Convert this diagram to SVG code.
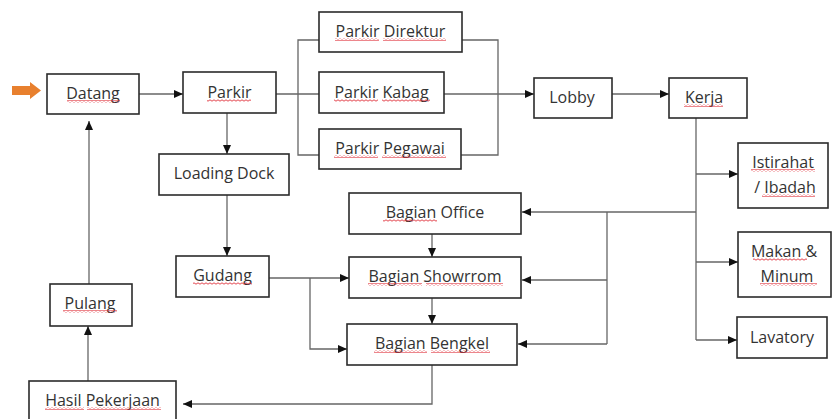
<svg xmlns="http://www.w3.org/2000/svg" width="832" height="419" viewBox="0 0 832 419">
<style>
.box{fill:#fff;stroke:#2b2b2b;stroke-width:1.6}
.lbl{font-family:"Open Sans","Liberation Sans",sans-serif;font-size:16px;fill:#333;text-anchor:middle}
.con{fill:none;stroke:#666;stroke-width:1.3}
.arr{marker-end:url(#ah)}
.sq{fill:url(#wavy)}
</style>
<defs>
<marker id="ah" markerUnits="userSpaceOnUse" markerWidth="9" markerHeight="8" refX="9" refY="4" orient="auto">
<path d="M0,0 L9,4 L0,8 z" fill="#111"/>
</marker>
<pattern id="wavy" patternUnits="userSpaceOnUse" width="4" height="3">
<path d="M0,2.2 L2,0.8 L4,2.2" fill="none" stroke="#e0303a" stroke-width="0.9"/>
</pattern>
</defs>
<rect width="832" height="419" fill="#fff"/>

<polygon points="12,86 30,86 30,82 41,90.5 30,99 30,95 12,95" fill="#e8802e"/>

<g id="connectors">
<path class="con arr" d="M139,94 H183"/>
<path class="con" d="M276,94 H319 M319,40 H298 V155 H319"/>
<path class="con" d="M462,40 H498 V155 H461"/>
<path class="con arr" d="M444,94 H534"/>
<path class="con arr" d="M612,94 H669"/>
<path class="con" d="M696,118 V340"/>
<path class="con arr" d="M696,174 H738"/>
<path class="con arr" d="M696,262 H738"/>
<path class="con arr" d="M696,340 H737"/>
<path class="con arr" d="M696,212 H522"/>
<path class="con" d="M607,212 V344"/>
<path class="con arr" d="M607,280 H522"/>
<path class="con arr" d="M607,344 H518"/>
<path class="con arr" d="M432,234 V257"/>
<path class="con arr" d="M432,298 V324"/>
<path class="con arr" d="M432,365 V404 H183"/>
<path class="con arr" d="M88,381 V326"/>
<path class="con arr" d="M89,284 V121"/>
<path class="con arr" d="M227,113 V154"/>
<path class="con arr" d="M227,195 V256"/>
<path class="con arr" d="M269,278 H349"/>
<path class="con arr" d="M310,278 V349 H347"/>
</g>

<g id="datang"><rect class="box" x="47" y="74" width="92" height="40"/><text class="lbl" x="93" y="99">Datang</text><rect class="sq" x="67" y="100" width="53" height="3"/></g>
<g id="parkir"><rect class="box" x="183" y="72" width="93" height="41"/><text class="lbl" x="229.5" y="98">Parkir</text><rect class="sq" x="207" y="99" width="44" height="3"/></g>
<g id="parkir-direktur"><rect class="box" x="319" y="12" width="143" height="40"/><text class="lbl" x="390.5" y="37">Parkir Direktur</text><rect class="sq" x="335" y="38" width="44" height="3"/><rect class="sq" x="383" y="38" width="63" height="3"/></g>
<g id="parkir-kabag"><rect class="box" x="319" y="72" width="125" height="41"/><text class="lbl" x="381.5" y="98">Parkir Kabag</text><rect class="sq" x="334" y="99" width="44" height="3"/><rect class="sq" x="382" y="99" width="48" height="3"/></g>
<g id="parkir-pegawai"><rect class="box" x="319" y="129" width="142" height="40"/><text class="lbl" x="390" y="154">Parkir Pegawai</text><rect class="sq" x="334" y="155" width="44" height="3"/><rect class="sq" x="382" y="155" width="64" height="3"/></g>
<g id="lobby"><rect class="box" x="534" y="78" width="78" height="40"/><text class="lbl" x="572" y="103">Lobby</text></g>
<g id="kerja"><rect class="box" x="669" y="78" width="78" height="40"/><text class="lbl" x="704" y="103">Kerja</text><rect class="sq" x="684" y="104" width="39" height="3"/></g>
<g id="istirahat"><rect class="box" x="738" y="143" width="90" height="65"/><text class="lbl" x="783" y="168">Istirahat</text><text class="lbl" x="785" y="193">/ Ibadah</text><rect class="sq" x="751" y="169" width="64" height="3"/><rect class="sq" x="762" y="194" width="53" height="3"/></g>
<g id="makan"><rect class="box" x="738" y="232" width="93" height="65"/><text class="lbl" x="784" y="257">Makan &amp;</text><text class="lbl" x="787" y="282">Minum</text><rect class="sq" x="753" y="258" width="54" height="3"/><rect class="sq" x="760" y="283" width="57" height="3"/></g>
<g id="lavatory"><rect class="box" x="737" y="317" width="90" height="41"/><text class="lbl" x="782" y="343">Lavatory</text></g>
<g id="bagian-office"><rect class="box" x="349" y="193" width="172" height="41"/><text class="lbl" x="435" y="218">Bagian Office</text><rect class="sq" x="383" y="219" width="54" height="3"/></g>
<g id="bagian-showroom"><rect class="box" x="349" y="257" width="172" height="41"/><text class="lbl" x="435" y="282">Bagian Showrrom</text><rect class="sq" x="368" y="283" width="54" height="3"/><rect class="sq" x="426" y="283" width="77" height="3"/></g>
<g id="bagian-bengkel"><rect class="box" x="347" y="324" width="170" height="41"/><text class="lbl" x="432" y="349">Bagian Bengkel</text><rect class="sq" x="374" y="350" width="53" height="3"/><rect class="sq" x="431" y="350" width="59" height="3"/></g>
<g id="loading-dock"><rect class="box" x="159" y="154" width="130" height="41"/><text class="lbl" x="224" y="179">Loading Dock</text></g>
<g id="gudang"><rect class="box" x="176" y="256" width="93" height="41"/><text class="lbl" x="222.5" y="281">Gudang</text><rect class="sq" x="193" y="282" width="59" height="3"/></g>
<g id="pulang"><rect class="box" x="50" y="284" width="82" height="42"/><text class="lbl" x="90" y="309">Pulang</text><rect class="sq" x="63" y="310" width="54" height="3"/></g>
<g id="hasil-pekerjaan"><rect class="box" x="29" y="381" width="147" height="46"/><text class="lbl" x="102.5" y="406">Hasil Pekerjaan</text><rect class="sq" x="45" y="407" width="39" height="3"/><rect class="sq" x="87" y="407" width="74" height="3"/></g>
</svg>
